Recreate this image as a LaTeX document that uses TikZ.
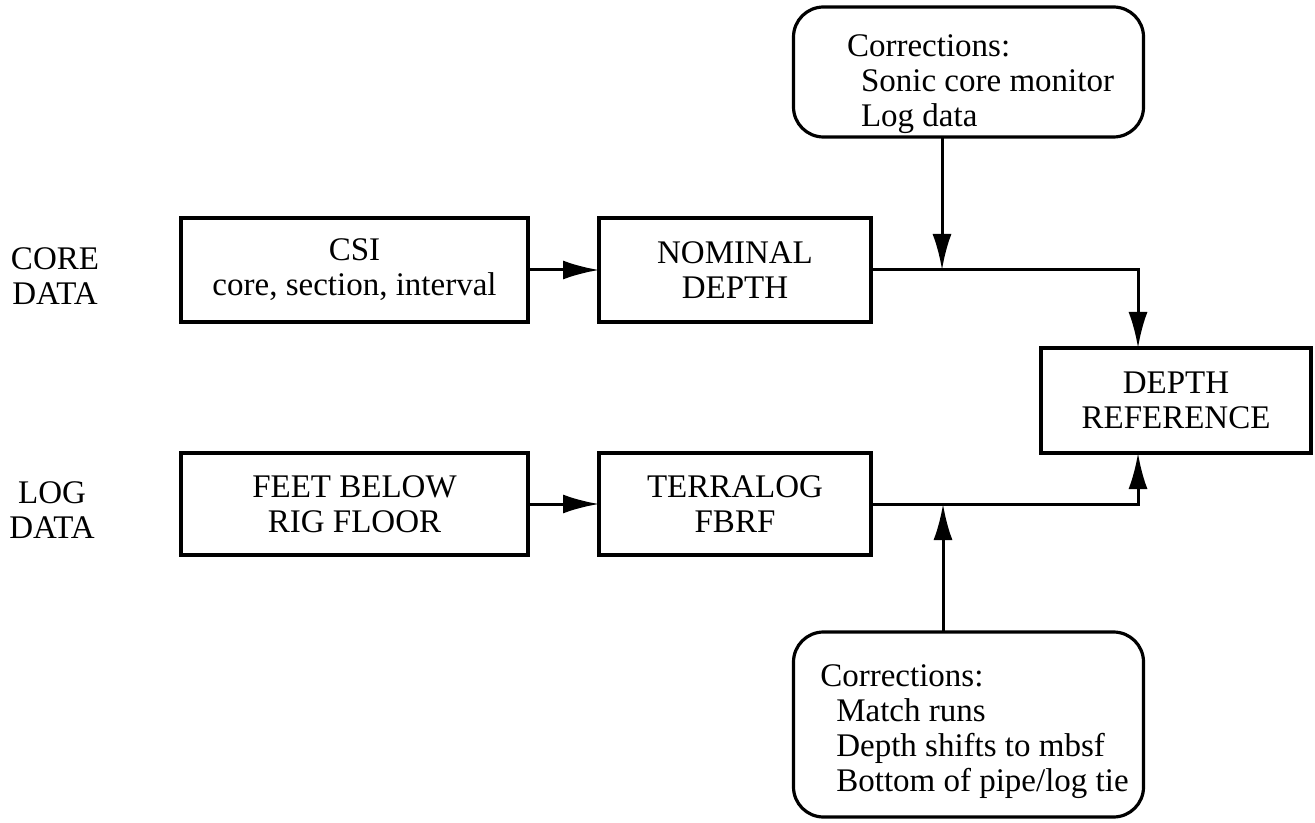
\documentclass[tikz,border=0pt]{standalone}
\usepackage{fontspec}
\setmainfont{Liberation Serif}
\usepackage{tikz}
\usetikzlibrary{arrows.meta, positioning}
\tikzstyle{process} = [rectangle, minimum width=173.5pt, minimum height=52pt, text centered, align=center, draw=black, line width=1.6pt, outer sep=0pt, font=\fontsize{16.5}{17.5}\selectfont]
\tikzstyle{correction} = [rectangle, rounded corners=15pt, minimum width=175pt, align=left, draw=black, line width=1.6pt, inner ysep=1pt, outer sep=0pt, font=\fontsize{16.5}{17.5}\selectfont]
\tikzstyle{sidelabel} = [align=center, font=\fontsize{16.5}{17.5}\selectfont]
\tikzstyle{arrow} = [line width=1.5pt, -{Latex[length=18pt,width=9.5pt]}]

\begin{document}
\begin{tikzpicture}[x=0.5pt, y=-0.5pt, node distance=35.5pt]
    \useasboundingbox (0,0) rectangle (1315,823);

        \node (coredata) [sidelabel] at (55,276) {CORE\\DATA};
        \node (logdata) [sidelabel] at (52,510) {LOG\\DATA};

        \node (csi) [process] at (354.5,270) {CSI\\core, section, interval};
        \node (nominal) [process, right=of csi, minimum width=136pt] {NOMINAL\\DEPTH};
        \node (feet) [process, minimum height=51pt] at (354.5,504) {FEET BELOW\\RIG FLOOR};
        \node (terralog) [process, right=of feet, minimum width=136pt, minimum height=51pt] {TERRALOG\\FBRF};
        \node (depthref) [process, minimum width=135pt, minimum height=52.5pt] at (1176,400.5) {DEPTH\\REFERENCE};

        \node (corrtop) [correction, minimum height=65pt] at (968.5,72) {\hspace*{12pt}\rule{0pt}{23pt}Corrections:\\\hspace*{19pt}Sonic core monitor\\\hspace*{19pt}Log data};
        \node (corrbot) [correction, minimum height=92.5pt] at (968.5,724.5) {\hspace*{6pt}\rule{0pt}{18pt}Corrections:\\\hspace*{14pt}Match runs\\\hspace*{14pt}Depth shifts to mbsf\\\hspace*{14pt}Bottom of pipe/log tie};

        % junctions on the two depth lines
        \coordinate (jointop) at (942,270);
        \coordinate (joinbot) at (943,504);
        \coordinate (drtop) at ([xshift=-19pt]depthref.north);
        \coordinate (drbot) at ([xshift=-19pt]depthref.south);

        \draw [arrow] (csi) -- (nominal);
        \draw [arrow] (feet) -- (terralog);
        \draw [arrow] (corrtop.south -| jointop) -- (jointop);
        \draw [arrow] (corrbot.north -| joinbot) -- (joinbot);
        \draw [arrow] (nominal.east) -| (drtop);
        \draw [arrow] (terralog.east) -| (drbot);

    \end{tikzpicture}
\end{document}
